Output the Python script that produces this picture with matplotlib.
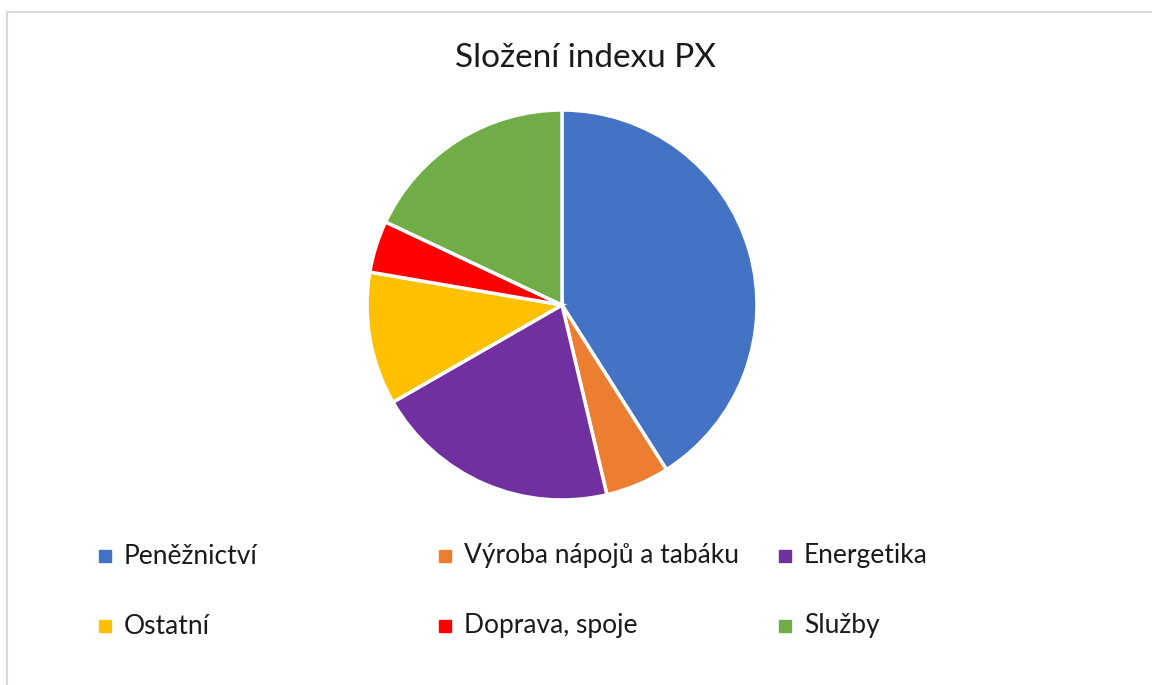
import matplotlib
matplotlib.use("Agg")
import matplotlib.pyplot as plt
from matplotlib.patches import Rectangle
from matplotlib.lines import Line2D

labels = ["Peněžnictví", "Výroba nápojů a tabáku", "Energetika",
          "Ostatní", "Doprava, spoje", "Služby"]
values = [41.0, 5.3, 20.4, 11.0, 4.3, 18.0]
colors = ["#4472C4", "#ED7D31", "#7030A0", "#FFC000", "#FF0000", "#70AD47"]
title = "Složení indexu PX"

W, H = 1152, 685
fig = plt.figure(figsize=(W/100, H/100), dpi=100)
plt.rcParams['font.family'] = ['Lato', 'DejaVu Sans']

# border
fig.add_artist(Line2D([7/W, 1], [1-12/H, 1-12/H], color="#D9D9D9", lw=1.5, transform=fig.transFigure))
fig.add_artist(Line2D([7/W, 7/W], [0, 1-12/H], color="#D9D9D9", lw=1.5, transform=fig.transFigure))

cx, cy, r = 562, 305, 195
ax = fig.add_axes([(cx-r)/W, 1-(cy+r)/H, 2*r/W, 2*r/H])
ax.pie(values, colors=colors, startangle=90, counterclock=False,
       wedgeprops=dict(edgecolor="white", linewidth=2.5))
ax.set_xlim(-1.0, 1.0)
ax.set_ylim(-1.0, 1.0)
ax.set_aspect("equal")
ax.axis("off")

fig.text(585/W, 1-58/H, title, ha="center", va="center", fontsize=24, color="#1a1a1a")

# legend
xs = [105, 445, 785]
ys = [556, 626]
for i, (lab, col) in enumerate(zip(labels, colors)):
    x = xs[i % 3]
    y = ys[i // 3]
    s = 12
    fig.add_artist(Rectangle(((x-s/2)/W, 1-(y+s/2)/H), s/W, s/H, color=col, transform=fig.transFigure))
    fig.text((x+19)/W, 1-y/H, lab, ha="left", va="center", fontsize=19, color="#1a1a1a")

fig.savefig("out.png", dpi=100)
